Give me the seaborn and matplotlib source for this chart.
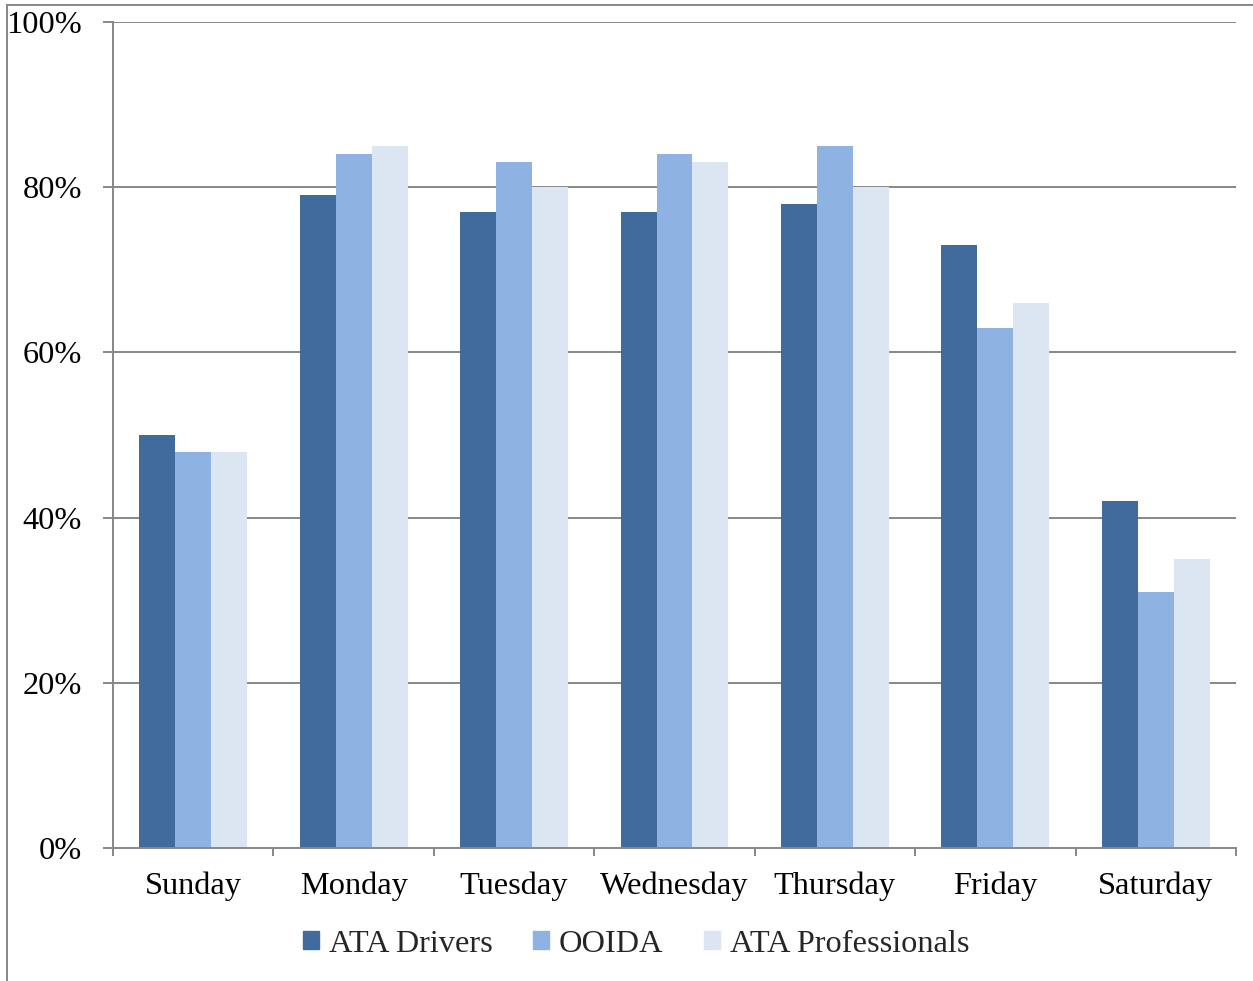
import matplotlib
matplotlib.use("Agg")
import matplotlib.pyplot as plt
import matplotlib.patches as mpatches
from matplotlib.ticker import PercentFormatter
import pandas as pd
import seaborn as sns

days = ["Sunday", "Monday", "Tuesday", "Wednesday", "Thursday", "Friday", "Saturday"]
series_names = ["ATA Drivers", "OOIDA", "ATA Professionals"]
ata_drivers = [50, 79, 77, 77, 78, 73, 42]
ooida = [48, 84, 83, 84, 85, 63, 31]
ata_professionals = [48, 85, 80, 83, 80, 66, 35]
y_ticks = [0, 20, 40, 60, 80, 100]

colors = ["#416B9C", "#8EB3E2", "#DCE5F2"]
grid_color = "#878787"
fs = 23.3

df = pd.DataFrame({
    "day": days * 3,
    "series": [series_names[0]] * 7 + [series_names[1]] * 7 + [series_names[2]] * 7,
    "value": ata_drivers + ooida + ata_professionals,
})

sns.set_theme(style="white")
plt.rcParams["font.family"] = ["Liberation Serif", "DejaVu Serif"]

W, H = 1253, 981
fig = plt.figure(figsize=(W / 100, H / 100), dpi=100)
ax = fig.add_axes([113 / W, 1 - 848 / H, (1236 - 113) / W, (848 - 22) / H])

sns.barplot(data=df, x="day", y="value", hue="series", order=days,
            hue_order=series_names, palette=colors, width=0.673,
            saturation=1, gap=0, ax=ax, legend=False, linewidth=0)

ax.set_ylim(0, 100)
ax.set_xlim(-0.5, 6.5)
ax.set_yticks(y_ticks)
ax.yaxis.set_major_formatter(PercentFormatter(decimals=0))
ax.set_xlabel("")
ax.set_ylabel("")

# horizontal gridlines across the plot
for t in y_ticks[1:]:
    ax.axhline(t, color=grid_color, lw=1.4, zorder=0.5)

for side in ["top", "right"]:
    ax.spines[side].set_visible(False)
for side in ["left", "bottom"]:
    ax.spines[side].set_color(grid_color)
    ax.spines[side].set_linewidth(1.4)

# y ticks extend outward, x ticks sit between categories
ax.tick_params(axis="y", length=7.2, width=1.4, color=grid_color, direction="out",
               left=True, labelsize=fs, labelcolor="black", pad=15)
ax.set_xticks(range(len(days)))
ax.set_xticklabels(days)
ax.tick_params(axis="x", length=0, labelsize=fs, labelcolor="black", pad=17)
ax.set_xticks([i - 0.5 for i in range(len(days) + 1)], minor=True)
ax.tick_params(axis="x", which="minor", length=5.8, width=1.4, color=grid_color,
               direction="out", bottom=True)
ax.grid(False)

handles = [mpatches.Patch(color=c, label=n) for c, n in zip(colors, series_names)]
fig.legend(handles=handles, loc="center", bbox_to_anchor=(636 / W, 1 - 944 / H),
           ncol=3, frameon=False, fontsize=fs, handlelength=0.5, handleheight=0.5,
           handletextpad=0.3, columnspacing=1.25)

# outer chart border
fig.add_artist(mpatches.Rectangle((7 / W, -0.1), 1.2, 1 - 5 / H + 0.1,
                                  transform=fig.transFigure, fill=False,
                                  edgecolor=grid_color, lw=1.4))

fig.savefig("out.png", dpi=100)
